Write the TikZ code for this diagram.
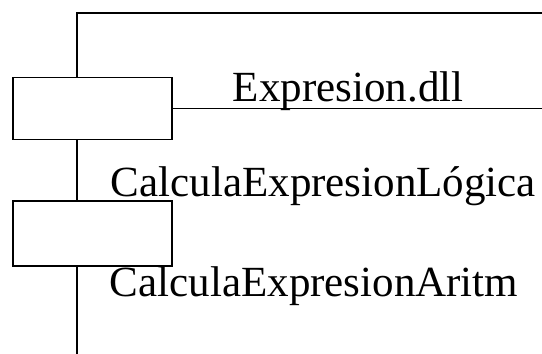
\documentclass[tikz,border=0pt]{standalone}
\usepackage{fontspec}
\setmainfont{Liberation Serif}
\usetikzlibrary{positioning}

\begin{document}
\begin{tikzpicture}[x=1pt, y=-1pt, line width=1.8pt,
    every node/.style={font=\fontsize{43}{48}\selectfont, inner sep=0pt},
    portbox/.style={draw, fill=white, minimum width=159pt, minimum height=62pt},
    txt/.style={anchor=base west}]
  \useasboundingbox (0,0) rectangle (542,354);

  % component outline, open to the right and below
  \coordinate (topleft) at (77,13);
  \coordinate (topright) at (542,13);
  \coordinate (bottomleft) at (77,354);
  \draw (topright) -- (topleft) -- (bottomleft);

  % the two interface boxes sit on the left edge
  \node[portbox] (portA) at (92.5,108.5) {};
  \node[portbox, minimum height=65pt] (portB) at (92.5,233.5) {};

  % name of the library, underlined by the line from the first box
  \node[txt] (dll) at (232,101) {Expresion.dll};
  \draw (portA.east) -- (portA.east -| topright);

  % operations
  \node[txt] (logica) at (110,196) {CalculaExpresionLógica};
  \node[txt] (aritm) at (109,296) {CalculaExpresionAritm};
\end{tikzpicture}
\end{document}
